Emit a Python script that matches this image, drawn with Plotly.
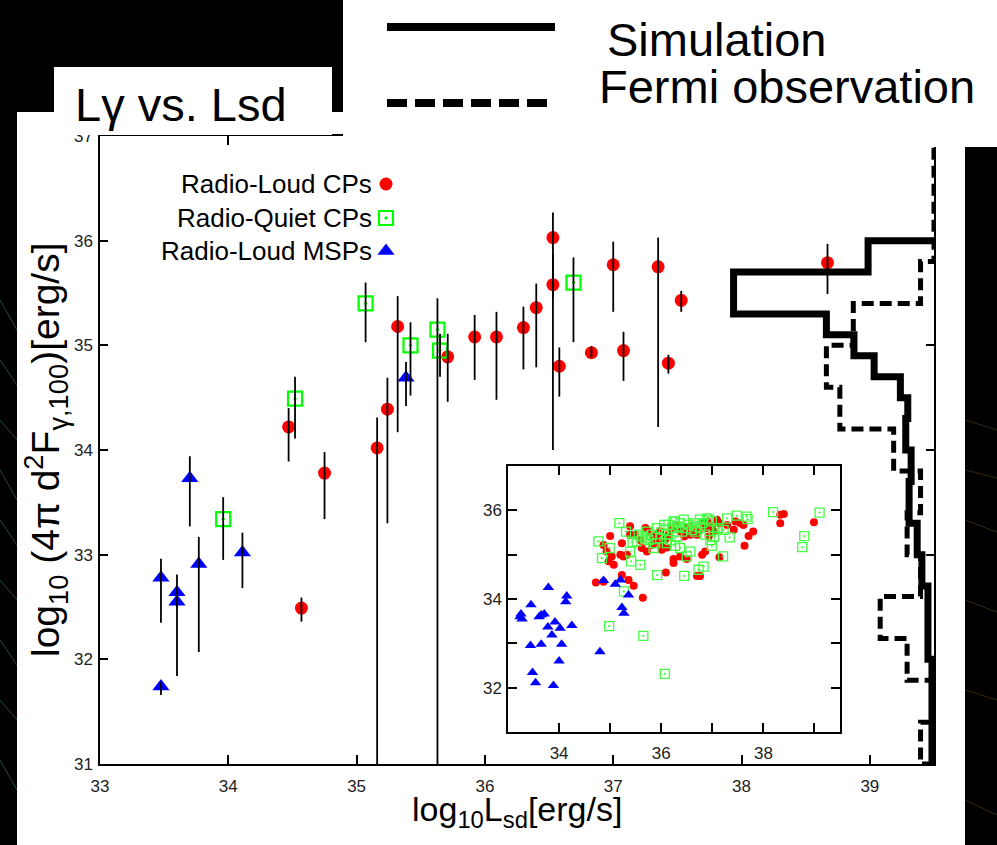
import plotly.graph_objects as go

# ------------------------------------------------------------------
# DATA
# ------------------------------------------------------------------
# Main panel: Radio-Loud CPs (value, upper end, lower end of error bar)
rl_cp_lsd = [34.47, 34.57, 34.75, 35.16, 35.24, 35.32, 35.71, 35.92, 36.09, 36.30, 36.40,
             36.53, 36.53, 36.58, 36.83, 37.00, 37.08, 37.35, 37.43, 37.53, 38.67]
rl_cp_lg = [34.22, 32.49, 33.78, 34.02, 34.39, 35.18, 34.89, 35.08, 35.08, 35.17, 35.36,
            36.03, 35.58, 34.80, 34.93, 35.77, 34.95, 35.75, 34.83, 35.43, 35.79]
rl_cp_hi = [34.40, 32.59, 33.98, 34.31, 34.69, 35.47, 35.11, 35.29, 35.32, 35.37, 35.59,
            36.27, 35.87, 34.98, 34.99, 35.99, 35.13, 36.03, 34.91, 35.52, 35.97]
rl_cp_lo = [33.89, 32.36, 33.34, 31.00, 33.30, 34.17, 34.46, 34.67, 34.48, 34.77, 34.79,
            35.46, 34.00, 34.51, 34.88, 35.32, 34.66, 34.22, 34.73, 35.32, 35.49]

# Main panel: Radio-Quiet CPs
rq_cp_lsd = [33.96, 34.52, 35.07, 35.42, 35.63, 35.65, 36.69]
rq_cp_lg = [33.34, 34.49, 35.40, 35.00, 35.15, 34.95, 35.60]
rq_cp_hi = [33.55, 34.70, 35.60, 35.22, 35.45, 35.11, 35.84]
rq_cp_lo = [32.95, 34.11, 35.03, 34.52, 31.00, 34.70, 35.03]

# Main panel: Radio-Loud MSPs
msp_lsd = [33.475, 33.60, 33.60, 33.475, 33.70, 33.77, 34.11, 35.385]
msp_lg = [32.78, 32.64, 32.55, 31.74, 33.73, 32.91, 33.02, 34.69]
msp_hi = [32.96, 32.81, 32.60, 31.78, 33.94, 33.17, 33.21, 34.84]
msp_lo = [32.35, 31.84, 32.50, 31.66, 33.27, 32.07, 32.68, 34.42]

# Histograms on the right-hand side (bins in log10 L_gamma)
sim_edges = [31.0, 32.0, 32.7, 33.0, 33.3, 33.7, 34.0, 34.3, 34.5, 34.7, 34.9, 35.1, 35.3, 35.7, 36.0]
sim_vals = [0.15, 0.45, 0.9, 1.25, 1.85, 1.7, 2.1, 1.95, 2.5, 4.45, 5.95, 8.0, 14.9, 4.9]
fermi_edges = [31.0, 31.4, 31.8, 32.2, 32.6, 33.0, 33.4, 33.8, 34.2, 34.6, 35.0, 35.4, 35.8, 36.2, 36.6, 37.0]
fermi_counts = [1, 0, 2, 4, 1, 2, 1, 3, 7, 8, 6, 1, 0, 0, 0]

# Inset: simulated population
in_rl_lsd = [34.72, 34.87, 35.00, 34.87, 34.93, 35.03, 34.97, 35.07, 35.20, 35.26, 35.23, 35.36, 35.46,
             35.64, 35.23, 35.39, 35.49, 35.59, 35.69, 35.77, 35.85, 35.92, 35.98, 36.01, 36.08, 36.14,
             36.21, 36.29, 36.37, 36.45, 36.49, 36.57, 36.67, 36.73, 36.82, 36.88, 36.93, 36.99, 37.09,
             37.14, 37.29, 37.42, 37.45, 37.63, 37.71, 37.80, 38.33, 38.40, 38.33, 38.99, 36.09, 36.24,
             36.24, 36.37, 36.50, 36.70, 36.76, 36.80, 36.86, 37.14, 36.11, 35.72, 35.62, 35.33, 35.39,
             35.82, 35.92, 35.98, 36.57, 36.70, 36.90, 37.03, 37.55, 37.61]
in_rl_lg = [34.37, 34.39, 35.42, 35.22, 35.07, 34.96, 34.85, 34.77, 35.00, 34.96, 34.54, 34.43, 34.30,
            34.03, 35.26, 35.64, 35.45, 35.33, 35.60, 35.52, 35.41, 35.30, 35.22, 35.11, 35.35, 35.45,
            35.56, 35.67, 35.52, 35.41, 35.60, 35.64, 35.56, 35.52, 35.71, 35.60, 35.41, 35.64, 35.79,
            35.71, 35.67, 35.56, 35.75, 35.20, 35.42, 35.52, 35.90, 35.92, 35.71, 35.73, 34.60, 34.81,
            34.90, 34.96, 34.90, 34.52, 34.52, 35.00, 35.07, 34.94, 35.16, 35.07, 35.15, 35.00, 35.45,
            35.22, 35.45, 35.52, 35.45, 35.45, 35.75, 35.52, 35.71, 35.67]
in_rq_lsd = [34.77, 34.84, 34.99, 35.18, 35.31, 35.44, 35.41, 35.59, 35.39, 35.56, 35.72, 35.82, 35.92,
             35.98, 36.05, 36.11, 36.21, 36.27, 36.37, 36.44, 36.54, 36.63, 36.70, 36.76, 36.90, 36.99,
             37.09, 37.29, 37.48, 37.67, 37.69, 38.19, 39.10, 38.80, 38.76, 37.34, 37.21, 36.99, 36.83,
             36.73, 36.57, 36.50, 36.37, 36.27, 35.92, 36.45, 35.27, 34.98, 35.65, 36.07, 35.88, 35.75,
             35.69, 35.52, 35.62, 36.11, 36.18, 36.31, 36.41, 36.47, 36.60, 36.67, 36.76, 36.86, 36.96,
             37.03, 37.12, 37.22, 36.06, 36.14, 36.24, 36.34, 36.80, 36.93, 36.67, 35.85]
in_rq_lg = [35.30, 34.92, 35.15, 35.71, 35.52, 35.28, 34.85, 34.77, 35.07, 35.45, 35.52, 35.45, 35.60,
            35.37, 35.56, 35.45, 35.60, 35.75, 35.71, 35.79, 35.67, 35.71, 35.64, 35.79, 35.82, 35.75,
            35.56, 35.82, 35.88, 35.86, 35.80, 35.96, 35.95, 35.42, 35.17, 35.39, 34.96, 35.20, 34.73,
            34.66, 35.07, 34.96, 35.15, 35.20, 34.54, 34.52, 34.17, 33.39, 33.17, 32.31, 35.26, 35.33,
            35.37, 35.30, 35.41, 35.26, 35.33, 35.41, 35.52, 35.60, 35.56, 35.52, 35.60, 35.45, 35.33,
            35.41, 35.60, 35.56, 35.67, 35.67, 35.75, 35.64, 35.71, 35.79, 35.71, 35.15]
in_msp_lsd = [33.235, 33.275, 33.255, 33.45, 33.61, 33.65, 33.71, 33.79, 33.92, 33.78, 33.86, 34.02,
              34.25, 34.15, 34.13, 33.44, 33.65, 34.05, 34.00, 33.48, 33.54, 33.89, 34.80, 34.87, 35.10,
              35.20, 35.36, 35.23, 35.27]
in_msp_lg = [33.60, 33.55, 33.66, 33.87, 33.60, 33.64, 33.66, 34.26, 33.48, 33.37, 33.19, 33.34,
             33.40, 34.07, 33.94, 32.95, 32.98, 32.98, 32.60, 32.34, 32.11, 32.05, 32.81, 34.42, 34.33,
             34.43, 34.09, 33.81, 33.68]

main_xticks = [33, 34, 35, 36, 37, 38, 39]
main_yticks = [31, 32, 33, 34, 35, 36, 37]
inset_xticks = [34, 35, 36, 37, 38, 39]
inset_xlabels = ["34", "", "36", "", "38", ""]
inset_yticks = [32, 33, 34, 35, 36]
inset_ylabels = ["32", "", "34", "", "36"]

legend_names = ["Radio-Loud CPs", "Radio-Quiet CPs", "Radio-Loud MSPs"]

# ------------------------------------------------------------------
# STYLE / LAYOUT CONSTANTS (pixels of the 997x845 page)
# ------------------------------------------------------------------
W, H = 997, 845
FONT = "Liberation Sans, Arial, Helvetica, sans-serif"
RED, GREEN, BLUE = "#ff0000", "#00ff00", "#0000ff"
MAIN_BOX = (100, 934, 136, 764)      # left, right, top, bottom
INSET_BOX = (508, 840, 466, 732)
HIST_MAX = 62.0


def px(x):
    return x / W


def py(y):
    return 1 - y / H


def step_path(edges, vals):
    xs, ys = [0], [edges[0]]
    for lo, hi, v in zip(edges[:-1], edges[1:], vals):
        xs += [v, v]
        ys += [lo, hi]
    xs.append(0)
    ys.append(edges[-1])
    return xs, ys


fig = go.Figure()

# --- main panel markers ---
fig.add_trace(go.Scatter(x=rl_cp_lsd, y=rl_cp_lg, mode="markers", xaxis="x", yaxis="y",
                         marker=dict(symbol="circle", size=13, color=RED, line=dict(width=0)),
                         showlegend=False))
fig.add_trace(go.Scatter(x=rq_cp_lsd, y=rq_cp_lg, mode="markers", xaxis="x", yaxis="y",
                         marker=dict(symbol="square-open-dot", size=14, color=GREEN,
                                     line=dict(width=2.2, color=GREEN)),
                         showlegend=False))
fig.add_trace(go.Scatter(x=msp_lsd, y=msp_lg, mode="markers", xaxis="x", yaxis="y",
                         marker=dict(symbol="triangle-up", size=15, color=BLUE, line=dict(width=0)),
                         showlegend=False))

# --- error bars drawn on top of markers ---
all_x = rl_cp_lsd + rq_cp_lsd + msp_lsd
all_y = rl_cp_lg + rq_cp_lg + msp_lg
all_hi = rl_cp_hi + rq_cp_hi + msp_hi
all_lo = rl_cp_lo + rq_cp_lo + msp_lo
fig.add_trace(go.Scatter(
    x=all_x, y=all_y, mode="markers", xaxis="x", yaxis="y",
    marker=dict(size=1, opacity=0),
    error_y=dict(type="data", symmetric=False,
                 array=[h - v for h, v in zip(all_hi, all_y)],
                 arrayminus=[v - l for l, v in zip(all_lo, all_y)],
                 color="black", thickness=1.8, width=0),
    showlegend=False, hoverinfo="skip"))

# --- histograms ---
sx, sy = step_path(sim_edges, sim_vals)
fig.add_trace(go.Scatter(x=sx, y=sy, mode="lines", xaxis="x3", yaxis="y",
                         line=dict(color="black", width=7), showlegend=False))
fx, fy = step_path(fermi_edges, fermi_counts)
fig.add_trace(go.Scatter(x=fx, y=fy, mode="lines", xaxis="x3", yaxis="y",
                         line=dict(color="black", width=5, dash="12px,6px"), showlegend=False))

# --- inset ---
fig.add_trace(go.Scatter(x=in_rl_lsd, y=in_rl_lg, mode="markers", xaxis="x2", yaxis="y2",
                         marker=dict(symbol="circle", size=8, color=RED, line=dict(width=0)),
                         showlegend=False))
fig.add_trace(go.Scatter(x=in_rq_lsd, y=in_rq_lg, mode="markers", xaxis="x2", yaxis="y2",
                         marker=dict(symbol="square-open-dot", size=9, color="#44ff44",
                                     line=dict(width=1.3, color="#44ff44")),
                         showlegend=False))
fig.add_trace(go.Scatter(x=in_msp_lsd, y=in_msp_lg, mode="markers", xaxis="x2", yaxis="y2",
                         marker=dict(symbol="triangle-up", size=10, color=BLUE, line=dict(width=0)),
                         showlegend=False))

# --- in-plot legend keys (placed on a full-page pixel axis) ---
key_x = 386
key_y = [184, 218, 251]
key_styles = [
    dict(symbol="circle", size=13, color=RED, line=dict(width=0)),
    dict(symbol="square-open-dot", size=14, color=GREEN, line=dict(width=2.2, color=GREEN)),
    dict(symbol="triangle-up", size=15, color=BLUE, line=dict(width=0)),
]
for ky, ms in zip(key_y, key_styles):
    fig.add_trace(go.Scatter(x=[key_x], y=[ky], mode="markers", xaxis="x4", yaxis="y4",
                             marker=ms, showlegend=False, hoverinfo="skip"))

axis_common = dict(showgrid=False, zeroline=False, showline=True, linecolor="black",
                   linewidth=1.5, ticks="inside", tickcolor="black", tickwidth=1.5,
                   mirror="ticks", automargin=False,
                   tickfont=dict(family=FONT, size=17, color="#222"))

l, r, t, b = MAIN_BOX
il, ir, it, ib = INSET_BOX
fig.update_layout(
    width=W, height=H, margin=dict(l=0, r=0, t=0, b=0, pad=0, autoexpand=False),
    paper_bgcolor="white", plot_bgcolor="rgba(0,0,0,0)",
    xaxis=dict(domain=[px(l), px(r)], range=[33, 39.5], tickvals=main_xticks, ticklen=9,
               anchor="y", ticklabelstandoff=6, **axis_common),
    yaxis=dict(domain=[py(b), py(t)], range=[31, 37], tickvals=main_yticks, ticklen=8,
               anchor="x", ticklabelstandoff=2, **axis_common),
    xaxis3=dict(overlaying="x", range=[HIST_MAX, 0], visible=False, anchor="y",
                automargin=False),
    xaxis2=dict(domain=[px(il), px(ir)], range=[33, 39.5], tickvals=inset_xticks,
                ticktext=inset_xlabels, ticklen=9, anchor="y2", ticklabelstandoff=5,
                **axis_common),
    yaxis2=dict(domain=[py(ib), py(it)], range=[31, 37], tickvals=inset_yticks,
                ticktext=inset_ylabels, ticklen=9, anchor="x2", ticklabelstandoff=1,
                **axis_common),
    xaxis4=dict(domain=[0, 1], range=[0, W], visible=False, anchor="y4", fixedrange=True,
                automargin=False),
    yaxis4=dict(domain=[0, 1], range=[H, 0], visible=False, anchor="x4", fixedrange=True,
                automargin=False),
)

# --- slide background blocks ---
shapes = [
    dict(type="rect", xref="paper", yref="paper", x0=0, x1=px(343), y0=py(112), y1=1,
         fillcolor="black", line=dict(width=0), layer="above"),
    dict(type="rect", xref="paper", yref="paper", x0=0, x1=px(17), y0=0, y1=py(112),
         fillcolor="black", line=dict(width=0), layer="above"),
    dict(type="rect", xref="paper", yref="paper", x0=px(965), x1=1, y0=0, y1=py(147),
         fillcolor="black", line=dict(width=0), layer="above"),
    dict(type="rect", xref="paper", yref="paper", x0=px(54), x1=px(332), y0=py(135), y1=py(67),
         fillcolor="white", line=dict(width=0), layer="above"),
    dict(type="rect", xref="paper", yref="paper", x0=px(343), x1=1, y0=py(147), y1=1,
         fillcolor="white", line=dict(width=0), layer="above"),
    # legend sample lines
    dict(type="line", xref="paper", yref="paper", x0=px(387), x1=px(555), y0=py(27), y1=py(27),
         line=dict(color="black", width=8), layer="above"),
    dict(type="line", xref="paper", yref="paper", x0=px(387), x1=px(555), y0=py(103), y1=py(103),
         line=dict(color="black", width=8, dash="20px,8px"), layer="above"),
]
# faint streaks in the dark side strips
for y0, y1 in [(300, 330), (360, 385), (420, 440), (470, 500), (520, 545),
               (580, 600), (640, 665), (700, 720), (760, 790)]:
    shapes.append(dict(type="line", xref="paper", yref="paper", x0=0, x1=px(17),
                       y0=py(y0), y1=py(y1), line=dict(color="rgba(70,150,150,0.5)", width=1),
                       layer="above"))
for y0, y1 in [(420, 430), (470, 478), (520, 532), (600, 612), (690, 700), (800, 815)]:
    shapes.append(dict(type="line", xref="paper", yref="paper", x0=px(965), x1=1,
                       y0=py(y0), y1=py(y1), line=dict(color="rgba(120,85,35,0.45)", width=1),
                       layer="above"))
fig.update_layout(shapes=shapes)

# --- texts ---
ann = [
    dict(text="Lγ vs. Lsd", x=px(73), y=py(104), xanchor="left", yanchor="middle",
         font=dict(family=FONT, size=47, color="black")),
    dict(text="Simulation", x=px(605), y=py(39), xanchor="left", yanchor="middle",
         font=dict(family=FONT, size=47, color="black")),
    dict(text="Fermi observation", x=px(597), y=py(86), xanchor="left", yanchor="middle",
         font=dict(family=FONT, size=47, color="black")),
    dict(text="log<sub>10</sub> (4π d<sup>2</sup>F<sub>γ,100</sub>)[erg/s]", x=px(46), y=py(450),
         xanchor="center", yanchor="middle", textangle=-90,
         font=dict(family=FONT, size=39, color="black")),
    dict(text="log<sub>10</sub>L<sub>sd</sub>[erg/s]", x=px(517), y=py(811),
         xanchor="center", yanchor="middle", font=dict(family=FONT, size=34, color="black")),
]
for name, ky in zip(legend_names, key_y):
    ann.append(dict(text=name, x=px(374), y=py(ky), xanchor="right", yanchor="middle",
                    font=dict(family=FONT, size=26, color="black")))
for a in ann:
    a.update(xref="paper", yref="paper", showarrow=False)
fig.update_layout(annotations=ann)

fig.write_html("out.html")
